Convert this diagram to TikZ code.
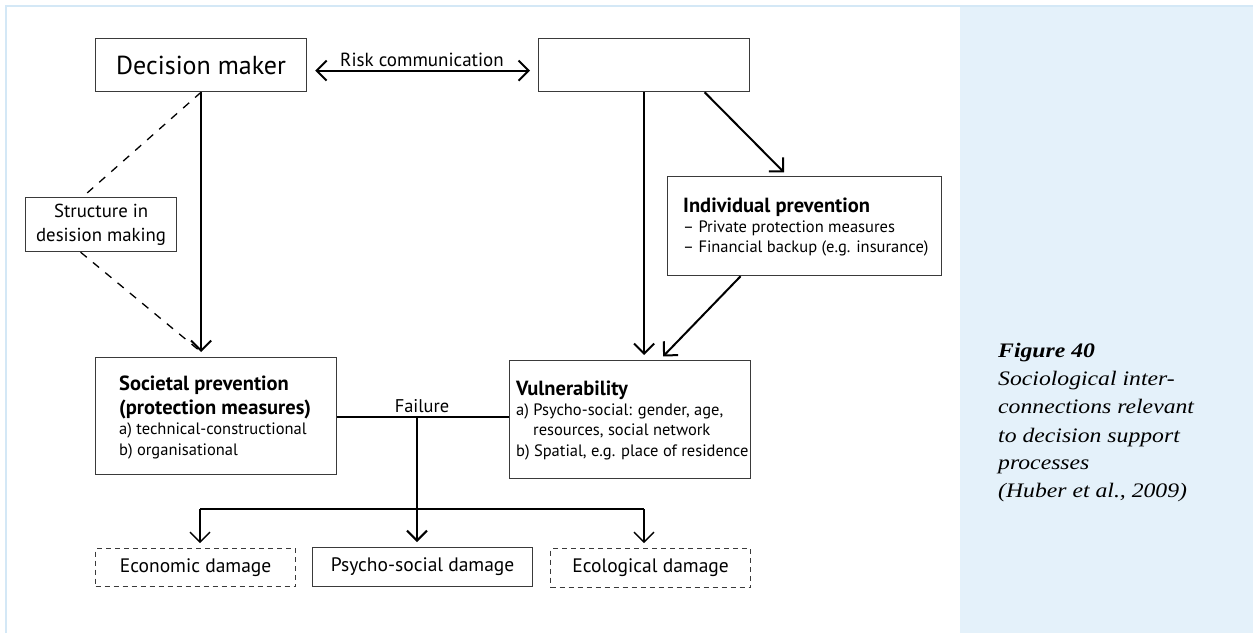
\documentclass[tikz,border=0pt]{standalone}
\usepackage{fontspec}
\setmainfont{PT Sans}
\newfontfamily\capfont[FakeStretch=1.15]{Liberation Serif}
\usetikzlibrary{arrows.meta}
\definecolor{panelblue}{HTML}{E4F1FA}
\definecolor{edgeblue}{HTML}{D4E8F6}
\definecolor{boxgrey}{HTML}{3A3A3A}
\tikzset{
  box/.style={draw=boxgrey, line width=1.2pt, inner sep=0pt, anchor=north west, align=center},
  dbox/.style={box, dashed, dash pattern=on 5pt off 4pt},
  txt/.style={inner sep=0pt, anchor=base west},
  ctxt/.style={inner sep=0pt, anchor=base},
  bd/.style={font=\bfseries\fontsize{20.5}{24}\selectfont},
  nm/.style={font=\fontsize{16.5}{20}\selectfont},
  arr/.style={line width=2pt, -{Straight Barb[length=10pt,width=20pt]}, shorten >=5pt},
  darr/.style={line width=2pt, {Straight Barb[length=10pt,width=20pt]}-{Straight Barb[length=10pt,width=20pt]}},
  thinln/.style={line width=1.3pt},
  dline/.style={line width=1.3pt, dash pattern=on 8pt off 8pt},
  captxt/.style={inner sep=0pt, anchor=base west, font=\capfont\itshape\fontsize{20.6}{28}\selectfont}
}
\begin{document}
\begin{tikzpicture}[x=1pt,y=-1pt]
\useasboundingbox (0,0) rectangle (1253,633);
\fill[white] (0,0) rectangle (1253,633);
\fill[panelblue] (960,6) rectangle (1253,633);
\draw[edgeblue, line width=2pt] (6,633) -- (6,6) -- (1253,6);

% boxes
\node[box, minimum width=211pt, minimum height=53pt, font=\fontsize{26}{30}\selectfont] (dm) at (95,38) {Decision maker};
\node[box, minimum width=211pt, minimum height=53pt] (rc) at (538,38) {};
\node[box, minimum width=151pt, minimum height=54pt, font=\fontsize{18.8}{24}\selectfont] (sd) at (25,197) {Structure in\\desision making};
\node[box, minimum width=274pt, minimum height=99pt] (ind) at (667,176) {};
\node[box, minimum width=241pt, minimum height=117pt] (sp) at (95,357) {};
\node[box, minimum width=241pt, minimum height=118pt] (vul) at (509,360) {};
\node[dbox, minimum width=200pt, minimum height=38pt, font=\fontsize{19.5}{23}\selectfont] (eco) at (95,548) {Economic damage};
\node[box, minimum width=220pt, minimum height=39pt, font=\fontsize{19.5}{23}\selectfont] (psd) at (312,547) {Psycho-social damage};
\node[dbox, minimum width=200pt, minimum height=39pt, font=\fontsize{19.5}{23}\selectfont] (ecl) at (550,548) {Ecological damage};

% box texts
\node[txt, bd] (ind1) at (683,212) {Individual prevention};
\node[txt, nm] (ind2) at (683,232) {– Private protection measures};
\node[txt, nm] (ind3) at (683,252) {– Financial backup (e.g. insurance)};

\node[txt, bd] (sp1) at (119,390) {Societal prevention};
\node[txt, bd] (sp2) at (119,414) {(protection measures)};
\node[txt, nm] (sp3) at (119,434) {a) technical-constructional};
\node[txt, nm] (sp4) at (119,455) {b) organisational};

\node[txt, bd] (v1) at (516,395) {Vulnerability};
\node[txt, nm] (v2) at (516,415) {a) Psycho-social: gender, age,};
\node[txt, nm] (v3) at (533,435) {resources, social network};
\node[txt, nm] (v4) at (516,456) {b) Spatial, e.g. place of residence};

% connectors
\draw[darr] ([xshift=8pt,yshift=-5.5pt]dm.east) -- ([xshift=-8pt,yshift=-5.5pt]rc.west);
\node[ctxt, font=\fontsize{19}{22}\selectfont] (rclab) at (422,66) {Risk communication};

\draw[arr] (dm.south) -- (dm.south |- sp.north);
\draw[dline] (dm.south) -- ([xshift=-18.5pt]sd.north);
\draw[dline] ([xshift=-20.5pt]sd.south) -- ([yshift=5pt]dm.south |- sp.north);

\draw[arr] (rc.south) -- (rc.south |- vul.north);
\draw[arr] ([xshift=60.5pt]rc.south) -- ([xshift=-17pt]ind.north);
\draw[arr] ([xshift=-64pt]ind.south) -- ([xshift=29.5pt]vul.north);

\coordinate (fj) at (417,417);
\coordinate (bl) at (200,509);
\coordinate (brr) at (644,509);
\draw[thinln] (fj -| sp.east) -- (fj -| vul.west);
\node[ctxt, font=\fontsize{18.4}{22}\selectfont] (fail) at (422,412) {Failure};
\draw[arr] (fj) -- (fj |- psd.north);
\draw[thinln] (bl) -- (brr);
\draw[arr, line width=1.3pt] (bl) -- (bl |- eco.north);
\draw[arr, line width=1.3pt] (brr) -- (brr |- ecl.north);

% caption
\node[captxt] (c0) at (998,357) {\bfseries Figure 40};
\node[captxt] (c1) at (998,385) {Sociological inter-};
\node[captxt] (c2) at (998,413) {connections relevant};
\node[captxt] (c3) at (998,442) {to decision support};
\node[captxt] (c4) at (998,469) {processes};
\node[captxt] (c5) at (998,497) {(Huber et al., 2009)};
\end{tikzpicture}
\end{document}
